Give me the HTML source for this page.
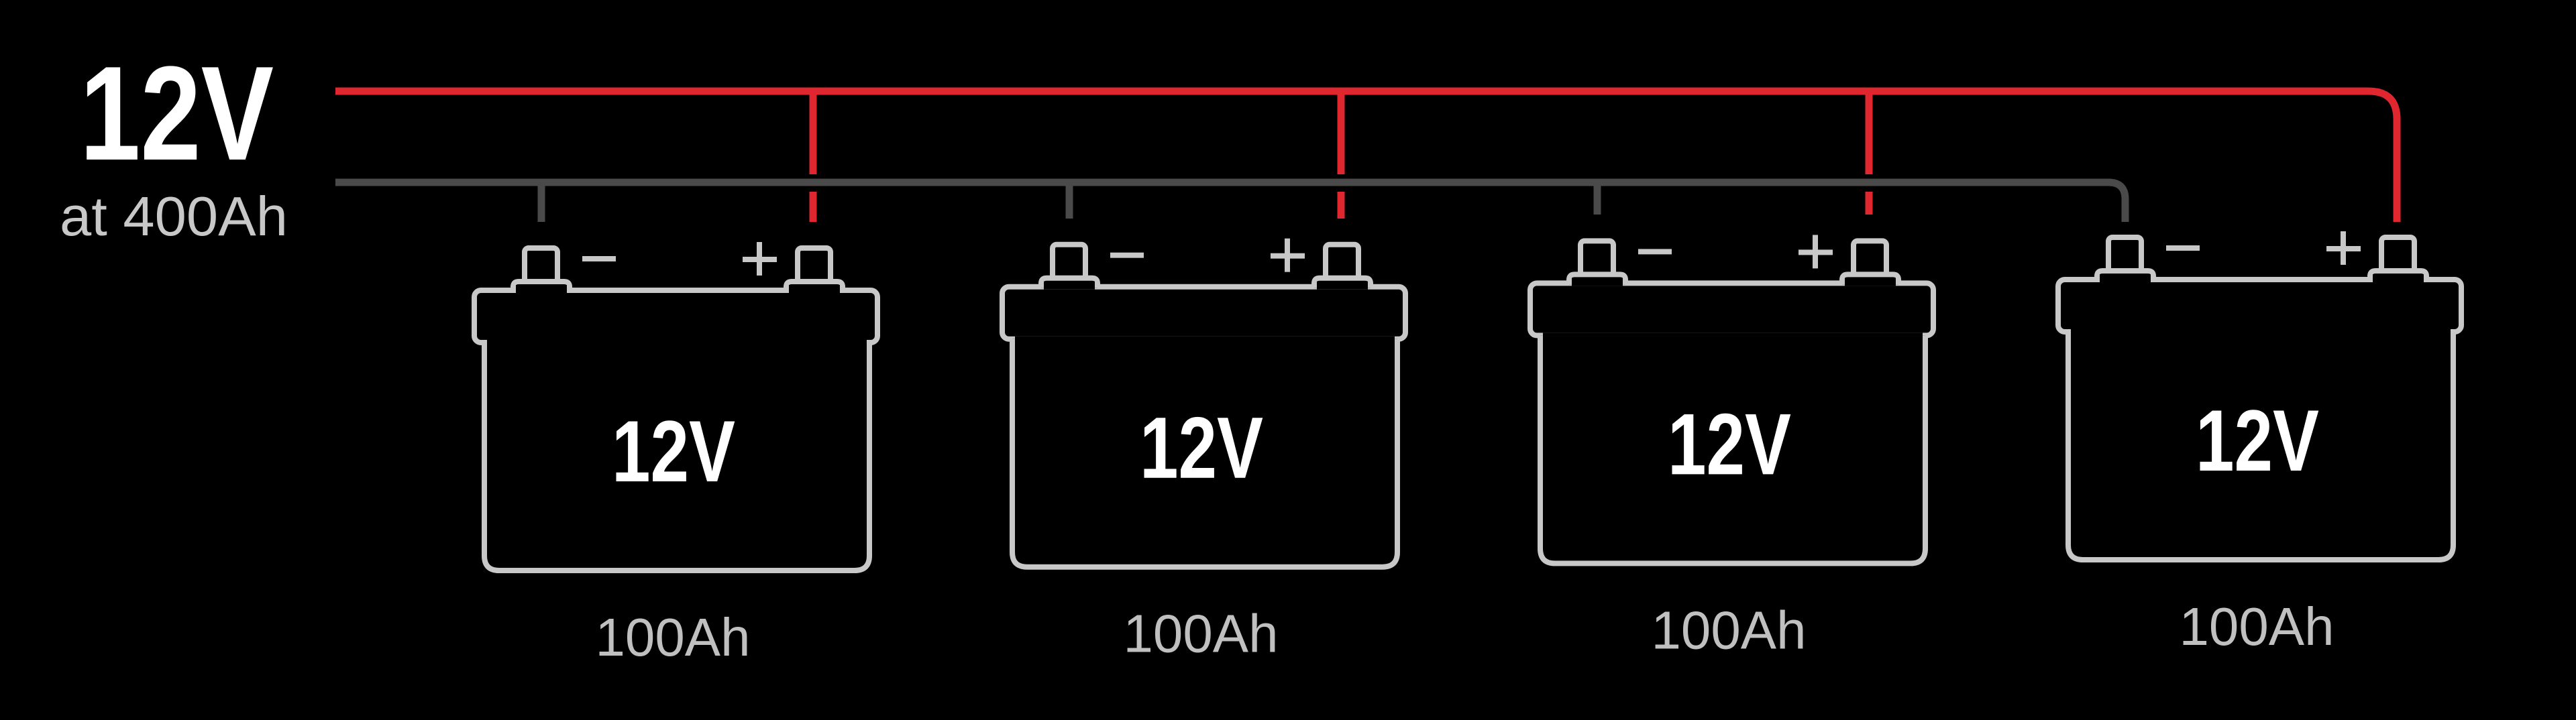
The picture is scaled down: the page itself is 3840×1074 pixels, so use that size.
<!DOCTYPE html>
<html><head><meta charset="utf-8"><style>
html,body{margin:0;padding:0;background:#000;}
svg{display:block;}
</style></head><body>
<svg width="3840" height="1074" viewBox="0 0 3840 1074" xmlns="http://www.w3.org/2000/svg">
<rect width="3840" height="1074" fill="#000"/>
<defs>
<g id="bat">
  <rect x="707" y="433" width="601" height="78" rx="10" fill="#000" stroke="#c8c8c8" stroke-width="8"/>
  <path d="M722 511 V829 Q722 851 744 851 H1274 Q1296 851 1296 829 V511" fill="#000" stroke="#c8c8c8" stroke-width="8"/>
  <rect x="726" y="507" width="566" height="4.5" fill="#000"/>
  <rect x="782" y="370" width="49" height="56" rx="6" fill="#000" stroke="#c8c8c8" stroke-width="8"/>
  <path d="M765 435 V428 Q765 420 773 420 H841 Q849 420 849 428 V435" fill="#000" stroke="#c8c8c8" stroke-width="8"/>
  <rect x="769" y="425" width="76" height="12" fill="#000"/>
  <rect x="1189" y="370" width="49" height="56" rx="6" fill="#000" stroke="#c8c8c8" stroke-width="8"/>
  <path d="M1172 435 V428 Q1172 420 1180 420 H1248 Q1256 420 1256 428 V435" fill="#000" stroke="#c8c8c8" stroke-width="8"/>
  <rect x="1176" y="425" width="76" height="12" fill="#000"/>
  <rect x="868" y="382" width="50" height="8" fill="#c8c8c8"/>
  <rect x="1107" y="383" width="51" height="8" fill="#c8c8c8"/>
  <rect x="1128" y="361" width="8" height="50" fill="#c8c8c8"/>
  <text x="1004" y="718" text-anchor="middle" font-family="'Liberation Sans Narrow','Liberation Sans',sans-serif" font-weight="bold" font-size="130" fill="#fff" textLength="184" lengthAdjust="spacingAndGlyphs">12V</text>
  <text x="1003" y="978" text-anchor="middle" font-family="'Liberation Sans',sans-serif" font-size="80" fill="#c0c0c0" textLength="231" lengthAdjust="spacingAndGlyphs">100Ah</text>
</g>
</defs>
<path d="M500 272 H3143 Q3168 272 3168 297 V331" fill="none" stroke="#4a4a4a" stroke-width="11"/>
<line x1="807" y1="272" x2="807" y2="331" stroke="#4a4a4a" stroke-width="11"/>
<line x1="1594" y1="272" x2="1594" y2="326" stroke="#4a4a4a" stroke-width="11"/>
<line x1="2381" y1="272" x2="2381" y2="320" stroke="#4a4a4a" stroke-width="11"/>
<g stroke="#e0262e" stroke-width="11" fill="none">
<path d="M500 136 H3531 Q3573 136 3573 178 V331"/>
<path d="M1212 136 V260 M1212 286 V331"/>
<path d="M1999 136 V260 M1999 286 V326"/>
<path d="M2786 136 V260 M2786 286 V320"/>
</g>
<use href="#bat"/>
<use href="#bat" transform="translate(787,-5.3)"/>
<use href="#bat" transform="translate(1574,-10.6)"/>
<use href="#bat" transform="translate(2361,-16)"/>
<text x="119" y="238" font-family="'Liberation Sans Narrow','Liberation Sans',sans-serif" font-weight="bold" font-size="200" fill="#fff" textLength="289" lengthAdjust="spacingAndGlyphs">12V</text>
<text x="89" y="351" font-family="'Liberation Sans',sans-serif" font-size="83" fill="#c8c8c8" textLength="340" lengthAdjust="spacingAndGlyphs">at 400Ah</text>
</svg>
</body></html>
